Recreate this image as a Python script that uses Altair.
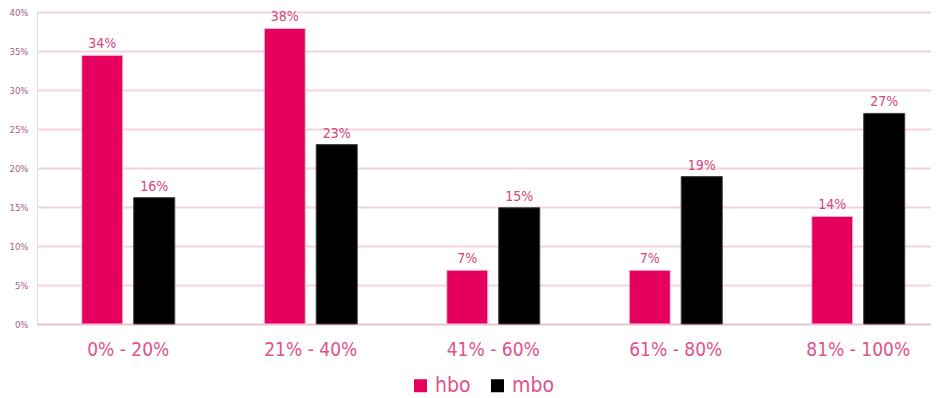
import altair as alt
import pandas as pd

categories = ["0% - 20%", "21% - 40%", "41% - 60%", "61% - 80%", "81% - 100%"]
series = ["hbo", "mbo"]
hbo = [0.3445, 0.379, 0.069, 0.069, 0.138]
mbo = [0.162, 0.230, 0.149, 0.189, 0.270]
y_ticks = [0, 0.05, 0.10, 0.15, 0.20, 0.25, 0.30, 0.35, 0.40]
colors = ["#E5005E", "#000000"]

rows = []
for i, c in enumerate(categories):
    rows.append({"cat": c, "series": "hbo", "value": hbo[i]})
    rows.append({"cat": c, "series": "mbo", "value": mbo[i]})
df = pd.DataFrame(rows)

FONT = "DejaVu Sans Condensed, DejaVu Sans"

x_enc = alt.X(
    "cat:N",
    sort=categories,
    title=None,
    scale=alt.Scale(range=[0, 912.5], paddingInner=0.4904, paddingOuter=0.2452),
    axis=alt.Axis(
        labelAngle=0,
        labelFontSize=19,
        labelColor="#E0528C",
        labelFont=FONT,
        labelPadding=16,
        ticks=False,
        domain=False,
        grid=False,
    ),
)
xo_enc = alt.XOffset(
    "series:N",
    sort=series,
    scale=alt.Scale(paddingInner=0.21, paddingOuter=0),
)
y_enc = alt.Y(
    "value:Q",
    title=None,
    scale=alt.Scale(domain=[0, 0.40], nice=False),
    axis=alt.Axis(
        values=y_ticks,
        format=".0%",
        labelFontSize=9.5,
        labelColor="#A8607F",
        labelFont=FONT,
        labelPadding=9,
        labelOverlap=False,
        ticks=False,
        domain=False,
        grid=True,
        gridColor={
            "condition": {"test": "datum.value === 0", "value": "#EAC3D2"},
            "value": "#F3D4DF",
        },
        gridWidth=2,
    ),
)

base = alt.Chart(df)

bars = base.mark_bar(strokeWidth=1).encode(
    x=x_enc,
    xOffset=xo_enc,
    y=y_enc,
    color=alt.Color(
        "series:N",
        sort=series,
        scale=alt.Scale(domain=series, range=colors),
        legend=alt.Legend(
            title=None,
            orient="none",
            direction="horizontal",
            legendX=373,
            legendY=363,
            symbolType="square",
            symbolSize=169,
            symbolStrokeWidth=0,
            labelFontSize=21,
            labelColor="#E0528C",
            labelFont=FONT,
            labelOffset=4,
            columnPadding=16,
        ),
    ),
    stroke=alt.Stroke(
        "series:N",
        sort=series,
        scale=alt.Scale(domain=series, range=["#F2C6D6", "#404040"]),
        legend=None,
    ),
)

labels = base.mark_text(
    baseline="alphabetic",
    dy=-7,
    fontSize=14,
    font=FONT,
    color="#D6457C",
).encode(
    x=x_enc,
    xOffset=xo_enc,
    y=y_enc,
    text=alt.Text("value:Q", format=".0%"),
)

chart = (
    alt.layer(bars, labels)
    .properties(
        width=894,
        height=312,
        autosize=alt.AutoSizeParams(type="none"),
        padding={"left": 29, "top": 4, "right": 0, "bottom": 74},
    )
    .configure_view(strokeWidth=0)
    .configure(background="white")
)

chart.save("out.html", embed_options={"renderer": "svg", "actions": False})
